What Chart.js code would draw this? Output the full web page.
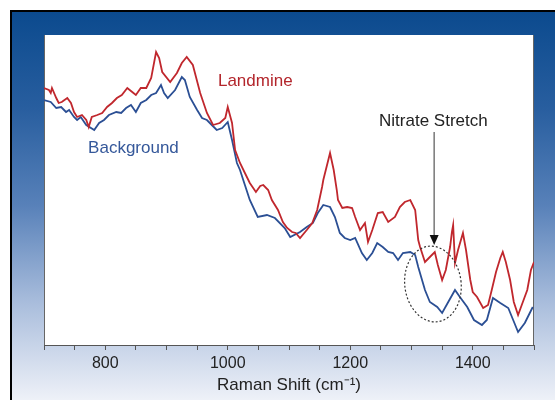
<!DOCTYPE html>
<html>
<head>
<meta charset="utf-8">
<script src="https://cdn.jsdelivr.net/npm/chart.js@4"></script>
<style>
  html, body { margin: 0; padding: 0; background: #fff; }
  #wrap { width: 555px; height: 400px; }
</style>
</head>
<body>
<div id="wrap"><canvas id="myChart" width="555" height="400"></canvas></div>
<script>
// Raman shift (cm-1) and intensity (arbitrary units)
const landmineShift = [700, 708, 711, 713, 720, 724, 729, 738, 744, 749, 754, 762, 769, 773, 778, 787, 795, 803, 811, 819,
  827, 836, 844, 850, 858, 867, 875, 883, 888, 893, 906, 917, 925, 933, 943, 955, 966, 976, 987, 996,
  1000, 1007, 1012, 1020, 1028, 1036, 1046, 1053, 1058, 1066, 1072, 1082, 1090, 1097, 1105, 1111, 1118, 1129, 1138, 1146,
  1154, 1156, 1167, 1173, 1178, 1180, 1187, 1195, 1203, 1208, 1216, 1224, 1229, 1236, 1245, 1253, 1262, 1273, 1281, 1289,
  1298, 1306, 1311, 1314, 1322, 1330, 1338, 1343, 1350, 1356, 1363, 1366, 1368, 1371, 1376, 1384, 1389, 1396, 1400, 1407,
  1417, 1425, 1431, 1438, 1445, 1449, 1454, 1461, 1467, 1474, 1480, 1489, 1495, 1500];
const landmineCounts = [257, 255, 252, 257, 247, 242, 243, 247, 242, 233, 228, 230, 225, 218, 228, 230, 232, 238, 242, 247,
  250, 257, 253, 250, 257, 257, 267, 293, 287, 273, 263, 272, 282, 288, 280, 252, 232, 220, 222, 227,
  238, 222, 195, 182, 172, 162, 153, 159, 160, 155, 145, 135, 123, 117, 113, 112, 107, 115, 122, 135,
  158, 165, 192, 175, 155, 145, 137, 138, 137, 128, 115, 122, 103, 115, 132, 133, 123, 128, 138, 143,
  145, 135, 105, 98, 83, 88, 93, 80, 65, 75, 98, 113, 120, 82, 95, 112, 95, 65, 53, 48,
  37, 40, 55, 73, 87, 93, 83, 65, 43, 30, 40, 55, 75, 83];

const backgroundShift = [700, 711, 720, 728, 736, 741, 749, 754, 760, 769, 782, 790, 798, 806, 818, 826, 834, 842, 850, 858,
  867, 875, 883, 891, 896, 902, 914, 925, 930, 938, 950, 958, 966, 974, 982, 991, 1000, 1007, 1015, 1020,
  1028, 1036, 1049, 1064, 1077, 1093, 1102, 1118, 1129, 1139, 1147, 1156, 1167, 1175, 1183, 1191, 1200, 1208, 1219, 1227,
  1236, 1244, 1253, 1262, 1270, 1278, 1286, 1298, 1306, 1311, 1322, 1330, 1342, 1350, 1360, 1371, 1379, 1391, 1402, 1415,
  1423, 1433, 1445, 1458, 1466, 1474, 1485, 1498];
const backgroundCounts = [245, 243, 237, 238, 233, 235, 228, 225, 228, 220, 215, 222, 225, 230, 233, 232, 237, 240, 233, 242,
  245, 250, 252, 260, 252, 247, 255, 268, 265, 248, 235, 227, 225, 220, 215, 217, 223, 205, 182, 175,
  160, 145, 128, 130, 127, 117, 108, 113, 118, 122, 132, 140, 138, 128, 112, 107, 105, 107, 92, 85,
  92, 102, 98, 93, 92, 85, 92, 93, 90, 78, 55, 43, 38, 32, 43, 55, 48, 38, 25, 20,
  25, 47, 42, 37, 25, 13, 22, 38];

const tickLabels = [800, 1000, 1200, 1400];

const toPoints = (xs, ys) => xs.map((x, i) => ({ x: x, y: ys[i] }));

const FONT = '"Liberation Sans", Arial, sans-serif';

// blue slide panel behind the white plot box
const panelBackground = {
    id: 'panelBackground',
    beforeDraw(chart) {
        const c = chart.ctx;
        const a = chart.chartArea;
        c.save();
        c.fillStyle = '#ffffff';
        c.fillRect(0, 0, chart.width, chart.height);
        const g = c.createLinearGradient(0, 11, 0, chart.height);
        g.addColorStop(0, '#0b4a8e');
        g.addColorStop(0.25, '#285e9f');
        g.addColorStop(0.5, '#5881b9');
        g.addColorStop(0.75, '#a9bddc');
        g.addColorStop(1, '#eef1f8');
        c.fillStyle = g;
        c.fillRect(11, 11, chart.width - 11, chart.height - 11);
        c.fillStyle = '#000';
        c.fillRect(10, 10, chart.width - 10, 2);
        c.fillRect(10, 10, 2, chart.height - 10);
        c.fillStyle = '#ffffff';
        c.fillRect(a.left, a.top, a.right - a.left, a.bottom - a.top);
        c.strokeStyle = '#666';
        c.lineWidth = 1;
        c.beginPath();
        c.moveTo(a.left + 0.5, a.top);
        c.lineTo(a.left + 0.5, a.bottom);
        c.moveTo(a.right - 0.5, a.top);
        c.lineTo(a.right - 0.5, a.bottom);
        c.stroke();
        c.restore();
    }
};

// labels, arrow and dotted ellipse placed in data units
const notes = {
    id: 'notes',
    afterDatasetsDraw(chart) {
        const c = chart.ctx;
        const x = chart.scales.x;
        const y = chart.scales.y;
        c.save();
        c.font = '17px ' + FONT;
        c.textBaseline = 'alphabetic';
        c.textAlign = 'left';
        c.fillStyle = '#b3262c';
        c.fillText('Landmine', x.getPixelForValue(984), y.getPixelForValue(259));
        c.fillStyle = '#35589a';
        c.fillText('Background', x.getPixelForValue(772), y.getPixelForValue(192));
        c.fillStyle = '#222';
        c.fillText('Nitrate Stretch', x.getPixelForValue(1247), y.getPixelForValue(219));

        // arrow
        const ax = x.getPixelForValue(1337);
        const top = y.getPixelForValue(213);
        const tip = y.getPixelForValue(100);
        c.strokeStyle = '#777';
        c.lineWidth = 1.5;
        c.beginPath();
        c.moveTo(ax, top);
        c.lineTo(ax, tip - 8);
        c.stroke();
        c.fillStyle = '#111';
        c.beginPath();
        c.moveTo(ax - 4.5, tip - 10);
        c.lineTo(ax + 4.5, tip - 10);
        c.lineTo(ax, tip);
        c.closePath();
        c.fill();

        // dotted ellipse
        const cx = x.getPixelForValue(1335);
        const cy = y.getPixelForValue(61);
        const rx = x.getPixelForValue(1335 + 46) - cx;
        const ry = cy - y.getPixelForValue(61 + 38);
        c.strokeStyle = '#333';
        c.lineWidth = 1.2;
        c.setLineDash([2, 2]);
        c.beginPath();
        c.ellipse(cx, cy, rx, ry, -0.12, 0, Math.PI * 2);
        c.stroke();
        c.restore();
    }
};

const ctx = document.getElementById('myChart').getContext('2d');

const myChart = new Chart(ctx, {
    type: 'line',
    data: {
        datasets: [{
            label: 'Landmine',
            data: toPoints(landmineShift, landmineCounts),
            borderColor: '#c0272d',
            borderWidth: 1.8,
            pointRadius: 0,
            tension: 0
        }, {
            label: 'Background',
            data: toPoints(backgroundShift, backgroundCounts),
            borderColor: '#2b4f94',
            borderWidth: 1.8,
            pointRadius: 0,
            tension: 0
        }]
    },
    options: {
        responsive: false,
        animation: false,
        layout: {
            padding: { left: 44, right: 21, top: 35, bottom: 0 }
        },
        plugins: {
            legend: { display: false },
            tooltip: { enabled: false }
        },
        scales: {
            x: {
                type: 'linear',
                min: 700,
                max: 1500,
                afterFit: (scale) => { scale.height = 55; },
                border: { display: true, color: '#555', width: 1 },
                grid: {
                    drawOnChartArea: false,
                    drawTicks: true,
                    tickLength: 5,
                    color: '#555'
                },
                ticks: {
                    stepSize: 50,
                    autoSkip: false,
                    maxRotation: 0,
                    padding: 4,
                    color: '#222',
                    font: { family: FONT, size: 16 },
                    callback: (v) => tickLabels.includes(v) ? String(v) : ''
                },
                title: {
                    display: true,
                    text: 'Raman Shift (cm\u207B\u00B9)',
                    color: '#222',
                    font: { family: FONT, size: 17 },
                    padding: { top: 0, bottom: 4 }
                }
            },
            y: {
                display: false,
                min: 0,
                max: 310
            }
        }
    },
    plugins: [panelBackground, notes]
});
</script>
</body>
</html>
